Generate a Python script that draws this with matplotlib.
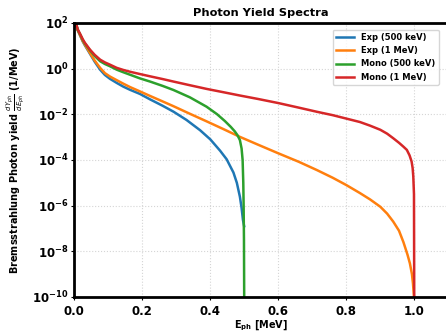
import matplotlib
matplotlib.use("Agg")
import matplotlib.pyplot as plt

# energies (MeV) and log10 of yield
exp500_E = [0.001, 0.005, 0.010, 0.017, 0.025, 0.031, 0.040, 0.046, 0.060, 0.076,
            0.090, 0.105, 0.125, 0.144, 0.164, 0.193, 0.223, 0.26, 0.292, 0.33,
            0.37, 0.40, 0.429, 0.448, 0.468, 0.478, 0.487, 0.492, 0.496, 0.4995]
exp500_logY = [2.4, 1.95, 1.68, 1.45, 1.18, 1.02, 0.8, 0.65, 0.3, -0.05,
               -0.28, -0.45, -0.63, -0.79, -0.93, -1.11, -1.35, -1.63, -1.89, -2.25,
               -2.7, -3.1, -3.6, -3.97, -4.55, -5.0, -5.61, -6.1, -6.63, -6.9]

exp1_E = [0.001, 0.005, 0.010, 0.017, 0.025, 0.031, 0.040, 0.046, 0.060, 0.076,
          0.090, 0.105, 0.125, 0.144, 0.164, 0.193, 0.223, 0.26, 0.292, 0.34,
          0.389, 0.44, 0.487, 0.54, 0.6, 0.66, 0.713, 0.76, 0.8, 0.84,
          0.87, 0.9, 0.92, 0.938, 0.955, 0.968, 0.98, 0.987, 0.993, 0.996,
          0.999, 0.9999]
exp1_logY = [2.4, 1.95, 1.68, 1.46, 1.2, 1.05, 0.83, 0.68, 0.35, 0.03,
             -0.2, -0.35, -0.51, -0.66, -0.81, -1.0, -1.2, -1.44, -1.65, -1.98,
             -2.31, -2.66, -2.99, -3.33, -3.71, -4.08, -4.44, -4.78, -5.1, -5.45,
             -5.73, -6.05, -6.35, -6.7, -7.1, -7.6, -8.15, -8.53, -9.0, -9.4,
             -10.0, -11.0]

mono500_E = [0.001, 0.005, 0.010, 0.017, 0.025, 0.031, 0.040, 0.046, 0.060, 0.076,
             0.090, 0.105, 0.125, 0.144, 0.164, 0.193, 0.223, 0.26, 0.292, 0.34,
             0.389, 0.42, 0.443, 0.46, 0.472, 0.48, 0.487, 0.492, 0.495, 0.497,
             0.498, 0.499, 0.4999]
mono500_logY = [2.4, 1.97, 1.7, 1.5, 1.25, 1.1, 0.92, 0.8, 0.55, 0.32,
                0.2, 0.1, -0.05, -0.16, -0.27, -0.43, -0.57, -0.76, -0.94, -1.26,
                -1.67, -2.0, -2.3, -2.55, -2.75, -2.92, -3.13, -3.5, -4.0, -5.0,
                -6.0, -7.5, -11.0]

mono1_E = [0.001, 0.005, 0.010, 0.017, 0.025, 0.031, 0.040, 0.046, 0.060, 0.076,
           0.090, 0.105, 0.125, 0.144, 0.164, 0.193, 0.223, 0.26, 0.292, 0.34,
           0.389, 0.44, 0.487, 0.54, 0.6, 0.66, 0.713, 0.76, 0.8, 0.84,
           0.87, 0.9, 0.92, 0.938, 0.955, 0.968, 0.978, 0.986, 0.992, 0.995,
           0.997, 0.999, 0.9999]
mono1_logY = [2.4, 1.98, 1.72, 1.52, 1.28, 1.13, 0.95, 0.83, 0.6, 0.39,
              0.27, 0.17, 0.03, -0.06, -0.14, -0.24, -0.34, -0.46, -0.57, -0.73,
              -0.89, -1.04, -1.18, -1.33, -1.51, -1.71, -1.89, -2.04, -2.19, -2.34,
              -2.5, -2.68, -2.85, -3.05, -3.25, -3.42, -3.56, -3.8, -4.07, -4.35,
              -4.73, -5.5, -11.0]

labels = ["Exp (500 keV)", "Exp (1 MeV)", "Mono (500 keV)", "Mono (1 MeV)"]
colors = ["#1f77b4", "#ff7f0e", "#2ca02c", "#d62728"]
series = [(exp500_E, exp500_logY), (exp1_E, exp1_logY),
          (mono500_E, mono500_logY), (mono1_E, mono1_logY)]

fig = plt.figure(figsize=(4.46, 3.36), dpi=100)
ax = fig.add_axes([0.1666, 0.1161, 0.8386, 0.8158])

for (E, logY), lab, c in zip(series, labels, colors):
    ax.plot(E, [10 ** v for v in logY], color=c, lw=1.8, label=lab)

ax.set_yscale("log")
ax.set_xlim(0, 1.1)
ax.set_ylim(1e-10, 1e2)
ax.set_yticks([1e2, 1e0, 1e-2, 1e-4, 1e-6, 1e-8, 1e-10])
ax.minorticks_off()
ax.set_xticks([0.0, 0.2, 0.4, 0.6, 0.8, 1.0])

ax.grid(True, ls=":", color="#d5d5d5", lw=0.8)
for s in ax.spines.values():
    s.set_linewidth(2)
ax.tick_params(direction="out", length=2.5, width=0.8, labelsize=8.5)
ax.tick_params(axis="x", pad=3)
ax.tick_params(axis="y", pad=1.5)
for t in ax.get_xticklabels() + ax.get_yticklabels():
    t.set_fontweight("bold")

ax.set_title("Photon Yield Spectra", fontsize=8.2, fontweight="bold", pad=5)
ax.set_xlabel("$\\mathbf{E_{ph}}$ [MeV]", fontsize=7, fontweight="bold", labelpad=1)
ax.set_ylabel("Bremsstrahlung Photon yield $\\frac{dY_{ph}}{dE_{ph}}$ (1/MeV)",
              fontsize=7, fontweight="bold", labelpad=4)

leg = ax.legend(loc="upper right", prop={"size": 6, "weight": "bold"},
                bbox_to_anchor=(0.985, 0.99), handlelength=2.2)

fig.savefig("out.png", dpi=100)
